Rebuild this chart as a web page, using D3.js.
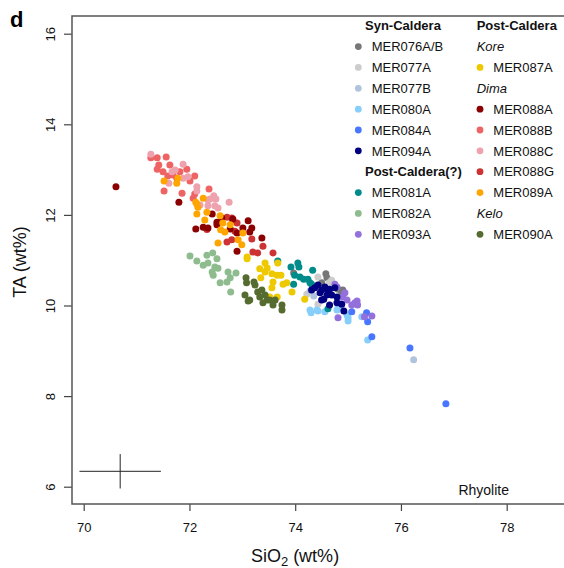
<!DOCTYPE html>
<html>
<head>
<meta charset="utf-8">
<script src="https://cdn.jsdelivr.net/npm/d3@7"></script>
<style>
  body { margin: 0; background: #fff; }
  svg { font-family: "Liberation Sans", Arial, sans-serif; }
</style>
</head>
<body>
<div id="vis"></div>
<script>
// frame
const FRAME_WIDTH = 564;
const FRAME_HEIGHT = 568;
const BOX = {left: 72, top: 16, right: 572, bottom: 504};

// axis ticks
const X_TICKS = [70, 72, 74, 76, 78];
const Y_TICKS = [6, 8, 10, 12, 14, 16];

// points per sample, [SiO2, TA]
const MER076AB = [[73.97,10.72],[74.58,10.70],[74.60,10.61],[74.90,10.34],[74.88,10.28],[74.81,10.36],[74.50,10.50]];
const MER077A = [[74.43,10.63],[74.69,10.56],[74.22,10.25],[74.43,10.03],[74.64,10.50]];
const MER077B = [[74.35,10.21],[74.50,10.12],[74.28,10.32],[74.81,10.12],[76.24,8.80]];
const MER080A = [[74.28,9.90],[74.30,9.84],[74.41,9.90],[74.43,9.88],[74.56,9.86],[74.79,9.90],[74.81,9.95],
                 [74.98,9.79],[75.00,9.73],[75.00,9.66],[75.26,9.75],[75.37,9.24]];
const MER084A = [[75.07,9.86],[75.35,9.84],[75.37,9.64],[75.45,9.31],[76.17,9.06],[76.85,7.83]];
const MER094A = [[74.37,10.39],[74.43,10.45],[74.50,10.34],[74.56,10.41],[74.62,10.34],[74.75,10.39],
                 [74.47,10.28],[74.60,10.23],[74.69,10.23],[74.79,10.19],[74.54,10.14],[74.65,10.01],
                 [74.79,10.06],[74.88,10.03],[74.92,9.88],[74.31,10.34],[74.50,10.12],[74.65,10.36]];
const MER081A = [[73.67,10.98],[73.92,10.85],[74.05,10.94],[74.07,10.85],[73.99,10.67],[74.09,10.63],
                 [74.16,10.58],[74.24,10.58],[74.28,10.50],[74.33,10.78],[73.97,10.47],[74.31,10.47],[74.62,9.93]];
const MER082A = [[72.01,11.09],[72.14,10.98],[72.33,11.11],[72.44,11.16],[72.26,10.89],[72.35,10.94],
                 [72.52,11.03],[72.48,10.85],[72.43,10.74],[72.54,10.82],[72.45,10.67],[72.73,10.74],
                 [72.88,10.72],[72.77,10.61],[72.71,10.52],[72.58,10.50],[72.78,10.30]];
const MER093A = [[74.79,10.41],[74.75,10.47],[74.94,10.28],[74.90,10.19],[74.98,10.12],[75.17,10.10],
                 [75.18,10.01],[75.07,10.01],[75.13,10.06],[74.81,9.73],[75.31,9.75],[75.45,9.77]];
const MER087A = [[73.09,11.07],[73.09,11.03],[73.43,10.94],[73.47,10.83],[73.67,10.94],[73.33,10.81],
                 [73.56,10.70],[73.66,10.67],[73.73,10.67],[73.35,10.61],[73.58,10.52],[73.77,10.47],
                 [73.84,10.50],[73.56,10.39],[73.52,10.19],[73.66,10.19],[73.94,10.30],[74.18,10.14],[73.43,10.74]];
const MER088A = [[70.61,12.62],[71.80,12.28],[72.43,12.02],[72.82,11.91],[72.52,11.84],[72.52,11.78],
                 [73.11,11.87],[73.01,11.71],[72.12,11.69],[72.26,11.73],[72.35,11.71],[73.14,11.62],
                 [73.18,11.71],[72.90,11.60],[73.37,11.49],[72.90,11.20],[72.61,11.93],[72.77,11.69]];
const MER088B = [[71.27,13.26],[71.39,13.26],[71.56,13.28],[71.42,13.10],[71.39,13.01],[71.63,13.10],
                 [71.95,13.01],[71.82,12.95],[71.50,12.95],[71.59,12.86],[71.69,12.88],[71.76,12.81],
                 [72.01,12.75],[72.10,12.86],[71.52,12.53],[71.86,12.48],[72.37,12.57],[72.07,12.37],[72.10,12.46]];
const MER088C = [[71.27,13.34],[71.88,13.12],[71.73,12.99],[71.67,12.95],[71.88,12.81],[71.97,12.84],
                 [71.61,12.70],[72.14,12.62],[72.14,12.53],[72.35,12.33],[72.46,12.42],[72.75,12.28],
                 [72.39,12.35],[72.50,12.35],[72.54,12.15],[72.48,12.20],[72.35,12.20],[72.20,12.22]];
const MER088G = [[72.71,11.95],[72.80,11.93],[72.90,11.82],[72.80,11.45],[73.18,11.47],[72.71,11.40],
                 [73.20,11.18],[73.29,11.16],[73.58,11.16],[73.39,11.31],[72.86,11.64],[72.33,11.68],[72.82,11.89]];
const MER089A = [[71.52,12.75],[71.78,12.81],[71.76,12.70],[72.12,12.28],[72.26,12.37],[72.16,12.17],
                 [72.14,12.24],[72.33,12.06],[72.14,12.02],[72.58,11.98],[72.29,11.89],[72.63,11.82],
                 [72.77,11.78],[72.59,11.67],[72.67,11.62],[73.01,11.60],[72.92,11.45],[72.54,11.38],[72.99,11.34]];
const MER090A = [[73.07,10.61],[73.08,10.50],[73.05,10.23],[73.14,10.12],[73.24,10.45],[73.29,10.30],
                 [73.33,10.19],[73.37,10.34],[73.43,10.23],[73.47,10.12],[73.39,10.06],[73.52,10.12],
                 [73.62,10.12],[73.58,10.01],[73.75,10.01],[73.75,9.90],[73.22,10.52],[73.11,10.10]];

// sample names, colours and point arrays (drawing order)
const SAMPLE_NAMES = ["MER076A/B", "MER077A", "MER077B", "MER080A", "MER084A", "MER081A", "MER082A",
                      "MER093A", "MER087A", "MER088B", "MER088C", "MER088G", "MER088A", "MER089A",
                      "MER090A", "MER094A"];
const SAMPLE_COLORS = ["#777777", "#cccccc", "#b0c4de", "#87cefa", "#4876ff", "#008b8b", "#8fbc8f",
                       "#9370db", "#eec900", "#ee6363", "#eea2ad", "#cd3333", "#8b0000", "#ffa500",
                       "#556b2f", "#000080"];
const SAMPLE_POINTS = [MER076AB, MER077A, MER077B, MER080A, MER084A, MER081A, MER082A,
                       MER093A, MER087A, MER088B, MER088C, MER088G, MER088A, MER089A,
                       MER090A, MER094A];

// legend columns: [label, kind] (kind: h = bold header, i = italic, s = sample)
const LEGEND_COL1 = [["Syn-Caldera","h"],["MER076A/B","s"],["MER077A","s"],["MER077B","s"],["MER080A","s"],
                     ["MER084A","s"],["MER094A","s"],["Post-Caldera(?)","h"],["MER081A","s"],
                     ["MER082A","s"],["MER093A","s"]];
const LEGEND_COL2 = [["Post-Caldera","h"],["Kore","i"],["MER087A","s"],["Dima","i"],["MER088A","s"],
                     ["MER088B","s"],["MER088C","s"],["MER088G","s"],["MER089A","s"],["Kelo","i"],["MER090A","s"]];

// typical analytical uncertainty cross
const ERR_CENTER = [70.69, 6.34];
const ERR_HALF = [0.77, 0.38];

const X_SCALE = d3.scaleLinear().domain([70, 78]).range([83.7, 506.7]);
const Y_SCALE = d3.scaleLinear().domain([6, 16]).range([486.7, 33.7]);

const SVG = d3.select("#vis")
              .append("svg")
                .attr("width", FRAME_WIDTH)
                .attr("height", FRAME_HEIGHT);

// x axis
const xAxis = SVG.append("g")
    .attr("transform", "translate(0," + BOX.bottom + ")")
    .call(d3.axisBottom(X_SCALE).tickValues(X_TICKS).tickSize(7).tickPadding(12));
xAxis.select(".domain").remove();
xAxis.selectAll("line").attr("stroke", "#444").attr("stroke-width", 1.2);
xAxis.selectAll("text").attr("font-size", "13px").attr("fill", "#111")
     .attr("font-family", "Liberation Sans, Arial, sans-serif");

// y axis, labels rotated like base R
const yAxis = SVG.append("g")
    .attr("transform", "translate(" + BOX.left + ",0)")
    .call(d3.axisLeft(Y_SCALE).tickValues(Y_TICKS).tickSize(8));
yAxis.select(".domain").remove();
yAxis.selectAll("line").attr("stroke", "#444").attr("stroke-width", 1.2);
yAxis.selectAll("text")
     .attr("x", 0).attr("dy", 0)
     .attr("transform", "translate(-17,0) rotate(-90)")
     .attr("text-anchor", "middle")
     .attr("font-size", "13px").attr("fill", "#111")
     .attr("font-family", "Liberation Sans, Arial, sans-serif");

// plot box
SVG.append("rect")
    .attr("x", BOX.left).attr("y", BOX.top)
    .attr("width", BOX.right - BOX.left).attr("height", BOX.bottom - BOX.top)
    .attr("fill", "none").attr("stroke", "#555").attr("stroke-width", 1.5);

// points
SAMPLE_POINTS.forEach((pts, i) => {
  SVG.append("g").selectAll("circle")
      .data(pts)
      .enter()
      .append("circle")
        .attr("cx", (d) => X_SCALE(d[0]))
        .attr("cy", (d) => Y_SCALE(d[1]))
        .attr("r", 3.5)
        .attr("fill", SAMPLE_COLORS[i]);
});

// error cross
SVG.append("line")
    .attr("x1", X_SCALE(ERR_CENTER[0] - ERR_HALF[0])).attr("x2", X_SCALE(ERR_CENTER[0] + ERR_HALF[0]))
    .attr("y1", Y_SCALE(ERR_CENTER[1])).attr("y2", Y_SCALE(ERR_CENTER[1]))
    .attr("stroke", "#222").attr("stroke-width", 1);
SVG.append("line")
    .attr("x1", X_SCALE(ERR_CENTER[0])).attr("x2", X_SCALE(ERR_CENTER[0]))
    .attr("y1", Y_SCALE(ERR_CENTER[1] - ERR_HALF[1])).attr("y2", Y_SCALE(ERR_CENTER[1] + ERR_HALF[1]))
    .attr("stroke", "#222").attr("stroke-width", 1);

// legend
const ROW0 = 25.7, ROW_H = 20.86;
function drawLegend(col, markX, textX, headX) {
  col.forEach((d, k) => {
    const cy = ROW0 + k * ROW_H;
    const t = SVG.append("text")
        .attr("y", cy + 4.7)
        .attr("font-size", "13px")
        .attr("fill", "#111")
        .text(d[0]);
    if (d[1] === "s") {
      t.attr("x", textX);
      SVG.append("circle")
          .attr("cx", markX).attr("cy", cy).attr("r", 3.4)
          .attr("fill", SAMPLE_COLORS[SAMPLE_NAMES.indexOf(d[0])]);
    } else {
      t.attr("x", headX);
      if (d[1] === "h") t.attr("font-weight", "bold");
      else t.attr("font-style", "italic");
    }
  });
}
drawLegend(LEGEND_COL1, 358.3, 371.7, 365);
drawLegend(LEGEND_COL2, 480, 493.3, 476.7);

// Rhyolite label
SVG.append("text")
    .attr("x", 509).attr("y", 495)
    .attr("text-anchor", "end")
    .attr("font-size", "14px").attr("fill", "#111")
    .text("Rhyolite");

// axis titles
const xTitle = SVG.append("text")
    .attr("x", 295).attr("y", 562)
    .attr("text-anchor", "middle")
    .attr("font-size", "18px").attr("fill", "#111");
xTitle.append("tspan").text("SiO");
xTitle.append("tspan").attr("font-size", "13px").attr("dy", 4).text("2");
xTitle.append("tspan").attr("dy", -4).text(" (wt%)");

SVG.append("text")
    .attr("transform", "translate(26,262) rotate(-90)")
    .attr("text-anchor", "middle")
    .attr("font-size", "18px").attr("fill", "#111")
    .text("TA (wt%)");

// panel letter
SVG.append("text")
    .attr("x", 10).attr("y", 27)
    .attr("font-size", "22px").attr("font-weight", "bold").attr("fill", "#000")
    .text("d");
</script>
</body>
</html>
